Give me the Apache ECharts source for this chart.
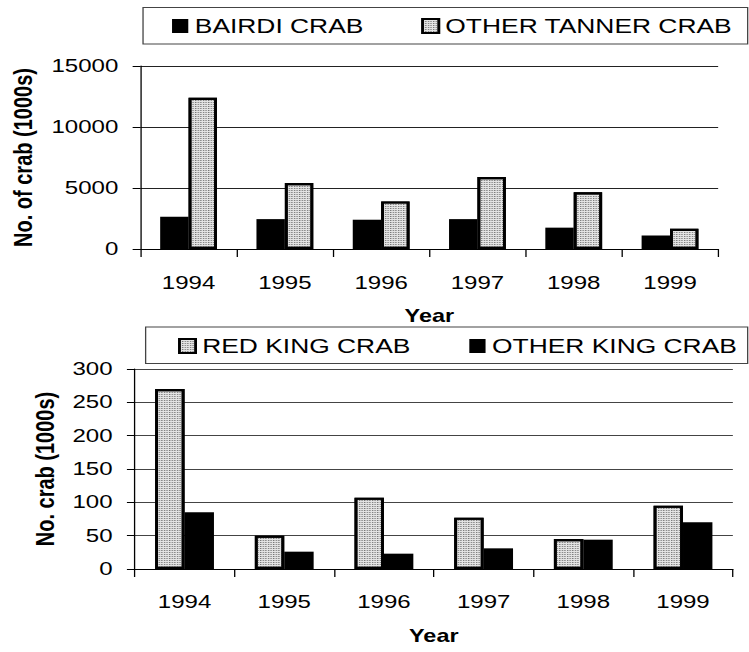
<!DOCTYPE html>
<html>
<head>
<meta charset="utf-8">
<script src="https://cdn.jsdelivr.net/npm/echarts@6/dist/echarts.min.js"></script>
<style>
  html, body { margin: 0; padding: 0; background: #fff; overflow: hidden; }
  #wrap { width: 749px; height: 652px; overflow: hidden; }
  /* the chart is laid out narrow and widened horizontally, giving the broad lettering */
  #chart { width: 576px; height: 652px; transform: scaleX(1.3003); transform-origin: 0 0; }
</style>
</head>
<body>
<div id="wrap"><div id="chart"></div></div>
<script>
// Survey catch by year, thousands of crab
const years = ['1994', '1995', '1996', '1997', '1998', '1999'];
const bairdi = [2650, 2450, 2400, 2450, 1750, 1100];
const otherTanner = [12400, 5400, 3900, 5900, 4650, 1650];
const redKing = [270, 50, 107, 77, 45, 95];
const otherKing = [85, 26, 23, 31, 44, 70];

const tannerTicks = { min: 0, max: 15000, interval: 5000 };
const kingTicks = { min: 0, max: 300, interval: 50 };

const FONT = '"Liberation Sans", Arial, sans-serif';

const solidBlack = { color: '#000' };
const dotted = {
  color: '#e4e4e4',
  borderColor: '#000',
  borderWidth: 2.2,
  decal: { symbol: 'rect', symbolSize: 1, dashArrayX: [1, 1], dashArrayY: [1, 1], color: '#767676' }
};

function xAxisFor(gridIndex, margin) {
  return {
    type: 'category', gridIndex, data: years,
    axisLine: { lineStyle: { color: '#000', width: 1 } },
    axisTick: { show: true, length: 8, lineStyle: { color: '#000' } },
    axisLabel: { color: '#000', fontSize: 18.5, fontFamily: FONT, margin },
    name: 'Year', nameLocation: 'middle', nameGap: 58,
    nameTextStyle: { color: '#000', fontSize: 18, fontWeight: 'bold', fontFamily: FONT }
  };
}
function yAxisFor(gridIndex, ticks, title, gap, lineColor) {
  return {
    type: 'value', gridIndex, min: ticks.min, max: ticks.max, interval: ticks.interval,
    axisLine: { show: true, lineStyle: { color: '#000', width: 1 } },
    axisTick: { show: true, length: 6, lineStyle: { color: '#000' } },
    axisLabel: {
      color: '#000', fontSize: 18.5, fontFamily: FONT, margin: 17,
      formatter: (v) => String(v)
    },
    splitLine: { show: true, lineStyle: { color: lineColor, width: 1 } },
    name: title, nameLocation: 'middle', nameGap: gap, nameRotate: 90,
    nameTextStyle: { color: '#000', fontSize: 20, fontWeight: 'bold', fontFamily: FONT }
  };
}

const chart = echarts.init(document.getElementById('chart'), null, { renderer: 'svg' });
chart.setOption({
  animation: false,
  backgroundColor: '#fff',
  grid: [
    { left: 107, right: 23.7, top: 66, height: 183 },
    { left: 103.6, right: 12.4, top: 369, height: 200 }
  ],
  xAxis: [xAxisFor(0, 24), xAxisFor(1, 23)],
  yAxis: [
    yAxisFor(0, tannerTicks, 'No. of crab (1000s)', 80, '#222'),
    yAxisFor(1, kingTicks, 'No. crab (1000s)', 56, '#444')
  ],
  legend: [
    {
      data: ['BAIRDI CRAB', 'OTHER TANNER CRAB'], left: 132.3, top: 16, padding: 0,
      icon: 'rect', itemWidth: 12.5, itemHeight: 14, itemGap: 44.6, selectedMode: false,
      textStyle: { color: '#000', fontSize: 20.3, fontFamily: FONT }
    },
    {
      data: ['RED KING CRAB', 'OTHER KING CRAB'], left: 137, top: 336, padding: 0,
      icon: 'rect', itemWidth: 12.5, itemHeight: 14, itemGap: 45.4, selectedMode: false,
      textStyle: { color: '#000', fontSize: 20.3, fontFamily: FONT }
    }
  ],
  graphic: [
    { type: 'rect', shape: { x: 110, y: 7.5, width: 465, height: 36.5 },
      style: { fill: 'none', stroke: '#444', lineWidth: 1 }, silent: true },
    { type: 'rect', shape: { x: 112, y: 327, width: 463, height: 36.5 },
      style: { fill: 'none', stroke: '#444', lineWidth: 1 }, silent: true }
  ],
  series: [
    { name: 'BAIRDI CRAB', type: 'bar', xAxisIndex: 0, yAxisIndex: 0, data: bairdi,
      barGap: '0%', barCategoryGap: '41%', itemStyle: solidBlack },
    { name: 'OTHER TANNER CRAB', type: 'bar', xAxisIndex: 0, yAxisIndex: 0, data: otherTanner,
      barGap: '0%', barCategoryGap: '41%', itemStyle: dotted },
    { name: 'RED KING CRAB', type: 'bar', xAxisIndex: 1, yAxisIndex: 1, data: redKing,
      barGap: '0%', barCategoryGap: '41%', itemStyle: dotted },
    { name: 'OTHER KING CRAB', type: 'bar', xAxisIndex: 1, yAxisIndex: 1, data: otherKing,
      barGap: '0%', barCategoryGap: '41%', itemStyle: solidBlack }
  ]
});
</script>
</body>
</html>
